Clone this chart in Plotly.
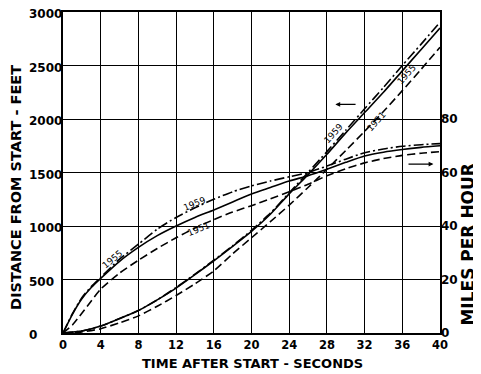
import plotly.graph_objects as go

# ---- data ----
time_s = [0, 2, 4, 6, 8, 10, 12, 14, 16, 18, 20, 22, 24, 26, 28, 30, 32, 34, 36, 38, 40]

dist_1951 = [0, 10, 40, 95, 160, 250, 350, 460, 580, 740, 890, 1040, 1195, 1360, 1530, 1705, 1885, 2070, 2265, 2465, 2670]
dist_1955 = [0, 18, 65, 135, 210, 310, 420, 545, 675, 810, 950, 1110, 1300, 1480, 1670, 1870, 2060, 2250, 2450, 2650, 2850]
dist_1959 = [0, 18, 65, 135, 210, 310, 425, 550, 680, 815, 960, 1120, 1310, 1500, 1695, 1895, 2095, 2295, 2500, 2700, 2905]

speed_time = [0, 1, 2, 3, 4, 6, 8, 10, 12, 14, 16, 18, 20, 22, 24, 26, 28, 30, 32, 34, 36, 38, 40]
mph_1951 = [0, 3, 7.4, 12, 16.4, 22.4, 27.2, 31.6, 35.6, 39.2, 42.4, 45.2, 47.6, 50.2, 52.8, 55.6, 58.8, 61.4, 63.6, 65.2, 66.4, 67.2, 67.8]
mph_1955 = [0, 7, 12.8, 17, 20.4, 26.8, 32, 36.4, 40, 43.2, 46, 49, 52, 54.4, 56.8, 58.8, 61.2, 63.8, 66.2, 67.6, 68.6, 69.4, 70]
mph_1959 = [0, 7.2, 13.2, 17.4, 20.8, 27.6, 33.2, 38.8, 43.2, 46.8, 50, 52.8, 55, 56.8, 58.4, 60, 62.4, 65, 67.4, 68.8, 69.8, 70.4, 70.8]

x_ticks = [0, 4, 8, 12, 16, 20, 24, 28, 32, 36, 40]
y_ticks = [0, 500, 1000, 1500, 2000, 2500, 3000]
y2_ticks = [0, 20, 40, 60, 80]

# label positions (time, feet) and angles
labels = [
    ("1955", 5.3, 690, -40),
    ("1959", 13.9, 1207, -22),
    ("1951", 14.4, 975, -22),
    ("1959", 28.75, 1867, -48),
    ("1951", 33.3, 1978, -48),
    ("1955", 36.4, 2415, -48),
]

# page has an 8px body margin; plot box on page: x 63..440, y 10..333
OFF = 8
W, H = 481 - OFF, 374 - OFF
ML, MT = 63 - OFF, 10 - OFF
PW, PH = 377, 323
MR = W - ML - PW
MB = H - MT - PH
PX0, PY0 = 63, 333  # page pixel of plot origin


def px(xp):
    return (xp - PX0) / PW


def py(yp):
    return (PY0 - yp) / PH


styles = {
    "1951": dict(dash="8px,4px"),
    "1955": dict(dash="solid"),
    "1959": dict(dash="10px,3px,2px,3px"),
}

fig = go.Figure()
for yr, d in (("1951", dist_1951), ("1955", dist_1955), ("1959", dist_1959)):
    fig.add_trace(go.Scatter(x=time_s, y=d, mode="lines", yaxis="y",
                             line=dict(color="black", width=1.6, shape="spline", smoothing=0.6, **styles[yr]),
                             showlegend=False, hoverinfo="skip"))
for yr, s in (("1951", mph_1951), ("1955", mph_1955), ("1959", mph_1959)):
    fig.add_trace(go.Scatter(x=speed_time, y=s, mode="lines", yaxis="y2",
                             line=dict(color="black", width=1.6, shape="spline", smoothing=0.6, **styles[yr]),
                             showlegend=False, hoverinfo="skip"))

ann = []
for txt, t, ft, ang in labels:
    ann.append(dict(x=t, y=ft, xref="x", yref="y", text=txt, showarrow=False,
                    textangle=ang, font=dict(family="DejaVu Sans", size=9, color="black")))

# left tick labels, left-aligned
for v in y_ticks:
    ann.append(dict(x=px(27), y=v, xref="paper", yref="y", text=str(v), yshift=-2,
                    showarrow=False, xanchor="left", yanchor="middle",
                    font=dict(family="DejaVu Sans", size=12, color="black", weight="bold")))

# arrows
ann.append(dict(x=28.9, y=2136, ax=31.2, ay=2136, xref="x", yref="y", axref="x", ayref="y",
                showarrow=True, arrowhead=2, arrowsize=0.8, arrowwidth=1.2, arrowcolor="black", text=""))
ann.append(dict(x=39.3, y=1579, ax=36.5, ay=1579, xref="x", yref="y", axref="x", ayref="y",
                showarrow=True, arrowhead=2, arrowsize=0.8, arrowwidth=1.2, arrowcolor="black", text=""))

# axis titles
ann.append(dict(x=px(16), y=py(187), xref="paper", yref="paper", xanchor="center", yanchor="middle",
                text="DISTANCE FROM START - FEET", textangle=-90, showarrow=False,
                font=dict(family="DejaVu Sans", size=14.5, color="black", weight="bold")))
ann.append(dict(x=px(468), y=py(244), xref="paper", yref="paper", xanchor="center", yanchor="middle",
                text="MILES PER HOUR", textangle=-90, showarrow=False,
                font=dict(family="DejaVu Sans", size=17, color="black", weight="bold")))
ann.append(dict(x=px(252), y=py(364), xref="paper", yref="paper", xanchor="center", yanchor="middle",
                text="TIME AFTER START - SECONDS", showarrow=False,
                font=dict(family="DejaVu Sans", size=13, color="black", weight="bold")))

fig.update_layout(
    width=W, height=H,
    margin=dict(l=ML, r=MR, t=MT, b=MB),
    paper_bgcolor="white", plot_bgcolor="white",
    xaxis=dict(range=[0, 40], tickvals=x_ticks, showgrid=True, gridcolor="black", gridwidth=1,
               showline=True, linecolor="black", linewidth=1.5, mirror=True, zeroline=False,
               ticks="", tickfont=dict(family="DejaVu Sans", size=11.5, color="black", weight="bold")),
    yaxis=dict(range=[0, 3000], tickvals=y_ticks, showticklabels=False, showgrid=True,
               gridcolor="black", gridwidth=1, showline=True, linecolor="black", linewidth=2,
               mirror=True, zeroline=False, ticks=""),
    yaxis2=dict(range=[0, 120], tickvals=y2_ticks, overlaying="y", side="right", showgrid=False,
                zeroline=False, showline=False, ticks="",
                tickfont=dict(family="DejaVu Sans", size=12, color="black", weight="bold")),
    annotations=ann,
)

fig.write_html("out.html")
